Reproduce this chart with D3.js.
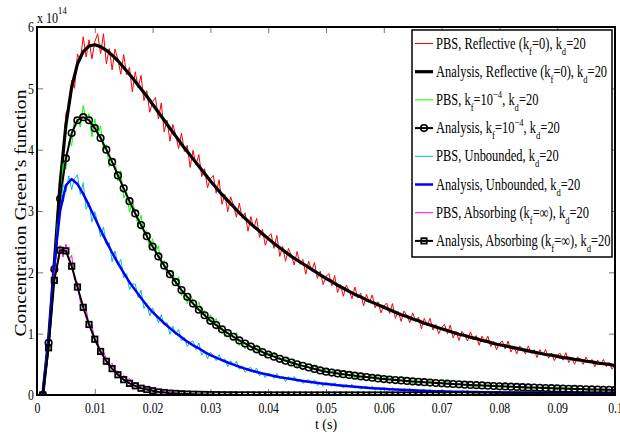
<!DOCTYPE html>
<html>
<head>
<meta charset="utf-8">
<script src="https://cdn.jsdelivr.net/npm/d3@7"></script>
<style>
  body { margin: 0; background: #fff; }
  svg text { font-family: "Liberation Serif", "DejaVu Serif", serif; fill: #000; }
</style>
</head>
<body>
<script>
// all concentrations are in units of 1e14 (the "x 10^14" above the y axis)
// analysis curves are sampled every 1 ms, PBS curves every 0.5 ms
var tAnalysis = d3.range(1, 101).map(function(k) { return k / 1000; });
var tPBS = d3.range(1, 201).map(function(k) { return k / 2000; });

var xTicks = [0, 0.01, 0.02, 0.03, 0.04, 0.05, 0.06, 0.07, 0.08, 0.09, 0.1];
var yTicks = [0, 1, 2, 3, 4, 5, 6];

var anaReflective = [0.00,0.90,2.15,3.45,4.40,5.02,5.40,5.60,5.69,5.71,
  5.68,5.62,5.54,5.45,5.34,5.23,5.11,4.99,4.87,4.74,
  4.61,4.48,4.35,4.22,4.09,3.97,3.85,3.73,3.61,3.49,
  3.38,3.27,3.17,3.07,2.97,2.88,2.79,2.71,2.63,2.55,
  2.47,2.40,2.33,2.26,2.20,2.14,2.08,2.02,1.96,1.90,
  1.85,1.79,1.74,1.69,1.64,1.60,1.55,1.51,1.47,1.43,
  1.39,1.35,1.31,1.28,1.24,1.21,1.17,1.14,1.11,1.08,
  1.05,1.02,0.99,0.97,0.94,0.92,0.89,0.87,0.84,0.82,
  0.80,0.78,0.76,0.74,0.72,0.70,0.68,0.66,0.65,0.63,
  0.61,0.60,0.58,0.57,0.55,0.54,0.52,0.51,0.50,0.48];

var anaPartial = [0.00,0.85,2.05,3.20,3.86,4.27,4.48,4.53,4.48,4.35,
  4.19,4.00,3.80,3.58,3.37,3.16,2.96,2.77,2.59,2.42,
  2.26,2.11,1.97,1.84,1.71,1.60,1.49,1.39,1.30,1.21,
  1.14,1.07,1.01,0.95,0.89,0.84,0.79,0.745,0.70,0.66,
  0.625,0.59,0.56,0.53,0.50,0.475,0.45,0.425,0.40,0.38,
  0.366,0.352,0.339,0.327,0.315,0.303,0.292,0.281,0.270,0.26,
  0.252,0.244,0.237,0.229,0.222,0.215,0.209,0.202,0.196,0.19,
  0.185,0.179,0.174,0.169,0.165,0.160,0.156,0.151,0.147,0.143,
  0.139,0.135,0.131,0.128,0.124,0.121,0.117,0.114,0.111,0.108,
  0.105,0.102,0.099,0.097,0.094,0.091,0.089,0.086,0.084,0.082];

var anaUnbounded = [0.02,0.88,2.15,3.00,3.42,3.52,3.44,3.28,3.09,2.89,
  2.69,2.50,2.32,2.15,1.99,1.84,1.71,1.58,1.46,1.35,
  1.26,1.17,1.09,1.01,0.94,0.87,0.81,0.76,0.70,0.65,
  0.61,0.57,0.53,0.495,0.46,0.43,0.40,0.375,0.35,0.33,
  0.31,0.29,0.275,0.26,0.245,0.23,0.215,0.203,0.19,0.18,
  0.17,0.16,0.151,0.142,0.134,0.126,0.119,0.112,0.106,0.10,
  0.095,0.09,0.086,0.081,0.077,0.074,0.07,0.066,0.063,0.06,
  0.058,0.055,0.053,0.051,0.049,0.047,0.045,0.043,0.042,0.04,
  0.038,0.037,0.035,0.034,0.033,0.031,0.030,0.029,0.028,0.027,
  0.026,0.025,0.024,0.023,0.022,0.022,0.021,0.020,0.020,0.019];

var anaAbsorbing = [0.00,0.77,1.87,2.36,2.35,2.10,1.76,1.43,1.15,0.91,
  0.71,0.55,0.43,0.33,0.25,0.19,0.15,0.11,0.09,0.07,
  0.05,0.04,0.03,0.025,0.02,0.015,0.012,0.010,0.008,0.006,
  0.005,0.004,0.003,0.003,0.002,0.002,0.002,0.001,0.001,0.001,
  0,0,0,0,0,0,0,0,0,0, 0,0,0,0,0,0,0,0,0,0,
  0,0,0,0,0,0,0,0,0,0, 0,0,0,0,0,0,0,0,0,0,
  0,0,0,0,0,0,0,0,0,0, 0,0,0,0,0,0,0,0,0,0];

var pbsReflective = [0,0.02,0.46,0.86,1.54,2.00,2.95,3.47,3.84,4.59,
  4.68,5.13,5.00,5.56,5.46,5.84,5.51,5.79,5.48,5.76,
  5.89,5.56,5.89,5.40,5.65,5.30,5.64,5.47,5.23,5.55,
  5.22,5.34,4.94,5.27,5.01,5.21,4.80,4.96,4.61,4.78,
  4.85,4.50,4.76,4.29,4.48,4.14,4.41,4.24,4.02,4.27,
  3.97,4.07,3.71,3.99,3.75,3.92,3.56,3.69,3.38,3.53,
  3.58,3.29,3.51,3.11,3.27,2.99,3.23,3.09,2.90,3.13,
  2.88,2.97,2.67,2.91,2.72,2.88,2.57,2.70,2.44,2.58,
  2.63,2.39,2.60,2.26,2.42,2.18,2.39,2.28,2.12,2.34,
  2.13,2.21,1.97,2.18,2.02,2.16,1.90,2.02,1.80,1.93,
  1.98,1.78,1.95,1.67,1.80,1.61,1.79,1.70,1.57,1.76,
  1.58,1.66,1.45,1.64,1.51,1.63,1.42,1.52,1.34,1.45,
  1.50,1.33,1.49,1.25,1.36,1.20,1.37,1.29,1.18,1.34,
  1.20,1.27,1.08,1.25,1.14,1.25,1.06,1.15,1.00,1.10,
  1.15,1.00,1.14,0.93,1.04,0.89,1.04,0.98,0.88,1.03,
  0.90,0.97,0.81,0.96,0.86,0.96,0.79,0.88,0.74,0.84,
  0.88,0.75,0.88,0.70,0.80,0.67,0.80,0.75,0.67,0.80,
  0.68,0.74,0.61,0.74,0.65,0.74,0.60,0.68,0.56,0.65,
  0.68,0.57,0.69,0.53,0.61,0.50,0.62,0.58,0.50,0.62,
  0.52,0.58,0.46,0.57,0.50,0.58,0.46,0.53,0.42,0.50];

var pbsPartial = [0,0.02,0.31,0.84,1.29,2.08,2.78,3.11,3.77,3.68,
  4.14,4.06,4.53,4.50,4.37,4.72,4.46,4.59,4.21,4.50,
  4.23,4.39,3.98,4.08,3.72,3.84,3.84,3.49,3.66,3.21,
  3.31,2.98,3.17,2.98,2.75,2.93,2.64,2.68,2.36,2.55,
  2.33,2.43,2.11,2.19,1.93,2.02,2.03,1.79,1.93,1.62,
  1.72,1.49,1.65,1.53,1.38,1.52,1.33,1.38,1.16,1.31,
  1.15,1.25,1.04,1.11,0.95,1.03,1.06,0.90,1.02,0.81,
  0.89,0.75,0.87,0.80,0.71,0.82,0.70,0.74,0.60,0.72,
  0.63,0.70,0.56,0.62,0.51,0.575,0.60,0.49,0.59,0.44,
  0.51,0.41,0.50,0.46,0.39,0.48,0.39,0.43,0.33,0.42,
  0.36,0.43,0.32,0.38,0.29,0.35,0.38,0.30,0.38,0.265,
  0.33,0.25,0.33,0.30,0.25,0.33,0.26,0.30,0.21,0.30,
  0.246,0.30,0.218,0.264,0.196,0.247,0.271,0.205,0.274,0.18,
  0.232,0.169,0.24,0.214,0.174,0.243,0.186,0.218,0.149,0.221,
  0.178,0.228,0.156,0.196,0.139,0.182,0.205,0.149,0.208,0.128,
  0.175,0.12,0.182,0.16,0.127,0.186,0.137,0.166,0.107,0.17,
  0.133,0.176,0.115,0.15,0.101,0.138,0.159,0.11,0.161,0.093,
  0.133,0.086,0.14,0.12,0.092,0.145,0.102,0.128,0.077,0.131,
  0.10,0.137,0.084,0.115,0.071,0.105,0.123,0.081,0.126,0.066,
  0.102,0.061,0.108,0.092,0.067,0.112,0.076,0.099,0.054,0.102];

var pbsUnbounded = [0,0.02,0.51,0.85,1.58,2.00,2.71,2.97,3.43,3.31,
  3.57,3.35,3.53,3.59,3.27,3.46,3.03,3.14,2.82,2.99,
  2.81,2.58,2.74,2.45,2.49,2.17,2.35,2.12,2.21,1.91,
  1.98,1.72,1.81,1.81,1.59,1.71,1.41,1.50,1.29,1.42,
  1.31,1.18,1.31,1.14,1.18,0.99,1.12,0.99,1.07,0.88,
  0.94,0.79,0.86,0.88,0.74,0.85,0.65,0.73,0.59,0.70,
  0.64,0.56,0.66,0.55,0.59,0.46,0.56,0.48,0.55,0.42,
  0.47,0.37,0.43,0.45,0.36,0.44,0.31,0.37,0.28,0.36,
  0.33,0.27,0.35,0.27,0.31,0.22,0.30,0.25,0.30,0.216,
  0.258,0.187,0.231,0.252,0.186,0.248,0.156,0.203,0.142,0.205,
  0.179,0.141,0.202,0.148,0.176,0.112,0.174,0.134,0.175,0.112,
  0.144,0.094,0.129,0.146,0.098,0.145,0.079,0.116,0.071,0.119,
  0.10,0.073,0.12,0.081,0.103,0.057,0.104,0.075,0.108,0.06,
  0.086,0.05,0.077,0.091,0.055,0.092,0.042,0.071,0.037,0.074,
  0.061,0.041,0.078,0.048,0.066,0.03,0.068,0.046,0.072,0.036,
  0.057,0.027,0.05,0.062,0.034,0.064,0.024,0.048,0.021,0.052,
  0.041,0.025,0.055,0.031,0.046,0.016,0.048,0.03,0.052,0.022,
  0.04,0.016,0.035,0.044,0.022,0.046,0.013,0.033,0.011,0.037,
  0.028,0.015,0.040,0.02,0.032,0.009,0.034,0.02,0.038,0.013,
  0.028,0.008,0.024,0.033,0.014,0.035,0.007,0.024,0.006,0.027];

var pbsAbsorbing = [0,0.02,0.36,0.78,1.27,1.99,2.16,2.44,2.25,2.46,
  2.21,2.28,1.88,1.84,1.51,1.48,1.41,1.13,1.16,0.85,
  0.87,0.65,0.71,0.59,0.47,0.52,0.39,0.39,0.26,0.32,
  0.24,0.27,0.17,0.20,0.12,0.15,0.16,0.10,0.13,0.063,
  0.088,0.044,0.075,0.054,0.030,0.058,0.029,0.038,0.010,0.033,
  0.016,0.029,0.007,0.016,0.001,0.010,0.014,0.002,0.013,0,
  0.006,0,0.005,0.002,0,0.006,0.001,0.004,0,0.005,
  0.002,0,0.004,0.001,0,0.003,0.001,0.002,0,0.002];

// legend labels: [text, "sub" | "sup" | ""]
var legendLabels = [
  [["PBS, Reflective (k",""],["f","sub"],["=0), k",""],["d","sub"],["=20",""]],
  [["Analysis, Reflective (k",""],["f","sub"],["=0), k",""],["d","sub"],["=20",""]],
  [["PBS, k",""],["f","sub"],["=10",""],["\u22124","sup"],[", k",""],["d","sub"],["=20",""]],
  [["Analysis, k",""],["f","sub"],["=10",""],["\u22124","sup"],[", k",""],["d","sub"],["=20",""]],
  [["PBS, Unbounded, k",""],["d","sub"],["=20",""]],
  [["Analysis, Unbounded, k",""],["d","sub"],["=20",""]],
  [["PBS, Absorbing (k",""],["f","sub"],["=\u221e), k",""],["d","sub"],["=20",""]],
  [["Analysis, Absorbing (k",""],["f","sub"],["=\u221e), k",""],["d","sub"],["=20",""]]
];

var series = [
  {t: tPBS, v: pbsReflective, color: "#ff0000", width: 1, marker: null},
  {t: tAnalysis, v: anaReflective, color: "#000000", width: 3.2, marker: null},
  {t: tPBS, v: pbsPartial, color: "#00ff00", width: 1, marker: null},
  {t: tAnalysis, v: anaPartial, color: "#000000", width: 2, marker: "circle"},
  {t: tPBS, v: pbsUnbounded, color: "#00c0c0", width: 1, marker: null},
  {t: tAnalysis, v: anaUnbounded, color: "#0000ff", width: 2.5, marker: null},
  {t: tPBS.slice(0, pbsAbsorbing.length), v: pbsAbsorbing, color: "#ff00ff", width: 1, marker: null},
  {t: tAnalysis, v: anaAbsorbing, color: "#000000", width: 2, marker: "square"}
];

var serif = '"Liberation Serif", "DejaVu Serif", serif';

var margin = {top: 27, right: 5, bottom: 41, left: 37},
    width = 620 - margin.left - margin.right,
    height = 436 - margin.top - margin.bottom;

var svg = d3.select("body").append("svg")
    .attr("width", 620)
    .attr("height", 436)
    .style("display", "block")
  .append("g")
    .attr("transform", "translate(" + margin.left + "," + margin.top + ")");

var x = d3.scaleLinear().domain([0, 0.1]).range([0, width]),
    y = d3.scaleLinear().domain([0, 6]).range([height, 0]);

svg.append("clipPath").attr("id", "plotclip")
  .append("rect").attr("width", width).attr("height", height);

// axes, matlab style: ticks pointing inwards on all four sides
var xAxis = svg.append("g")
    .attr("transform", "translate(0," + height + ")")
    .call(d3.axisBottom(x).tickValues(xTicks).tickFormat(String).tickSizeInner(-6).tickSizeOuter(0).tickPadding(7));
var yAxis = svg.append("g")
    .call(d3.axisLeft(y).tickValues(yTicks).tickFormat(String).tickSizeInner(-6).tickSizeOuter(0).tickPadding(4));
svg.append("g")
    .call(d3.axisTop(x).tickValues(xTicks).tickFormat("").tickSizeInner(-6).tickSizeOuter(0));
svg.append("g")
    .attr("transform", "translate(" + width + ",0)")
    .call(d3.axisRight(y).tickValues(yTicks).tickFormat("").tickSizeInner(-6).tickSizeOuter(0));

svg.selectAll(".domain").remove();
svg.selectAll(".tick line").attr("stroke", "#777").attr("stroke-width", 1);
svg.selectAll(".tick text")
    .style("font-family", serif)
    .style("font-size", "15.5px")
    .attr("transform", "scale(0.76,1)");

// curves
var line = d3.line()
    .x(function(d) { return x(d[0]); })
    .y(function(d) { return y(d[1]); });

var plot = svg.append("g").attr("clip-path", "url(#plotclip)");

series.forEach(function(s) {
  var pts = s.v.map(function(v, i) { return [s.t[i], v]; });
  plot.append("path")
      .datum(pts)
      .attr("fill", "none")
      .attr("stroke", s.color)
      .attr("stroke-width", s.width)
      .attr("stroke-linejoin", "round")
      .attr("d", line);
  if (s.marker == "circle") {
    plot.selectAll(null).data(pts).enter().append("circle")
        .attr("cx", function(d) { return x(d[0]); })
        .attr("cy", function(d) { return y(d[1]); })
        .attr("r", 3.3)
        .attr("fill", "none")
        .attr("stroke", "#000")
        .attr("stroke-width", 1.6);
  }
  if (s.marker == "square") {
    plot.selectAll(null).data(pts).enter().append("rect")
        .attr("x", function(d) { return x(d[0]) - 2.7; })
        .attr("y", function(d) { return y(d[1]) - 2.7; })
        .attr("width", 5.4)
        .attr("height", 5.4)
        .attr("fill", "none")
        .attr("stroke", "#000")
        .attr("stroke-width", 1.8);
  }
});

// frame
svg.append("rect")
    .attr("width", width).attr("height", height)
    .attr("fill", "none").attr("stroke", "#000").attr("stroke-width", 2);

// x 10^14
var expo = svg.append("text")
    .attr("transform", "translate(0,-4) scale(0.78,1)")
    .style("font-family", serif)
    .style("font-size", "15.5px");
expo.append("tspan").text("x 10");
expo.append("tspan").attr("dy", -9).style("font-size", "11px").text("14");

// axis labels
svg.append("text")
    .attr("x", x(0.05))
    .attr("y", height + 33.5)
    .attr("text-anchor", "middle")
    .style("font-family", serif)
    .style("font-size", "14px")
    .text("t (s)");

svg.append("text")
    .attr("transform", "translate(-11," + (height / 2 + 2) + ") rotate(-90) scale(1.12,1)")
    .attr("text-anchor", "middle")
    .style("font-family", serif)
    .style("font-size", "17.5px")
    .text("Concentration Green\u2019s function");

// legend
var lg = svg.append("g").attr("transform", "translate(" + (412 - margin.left) + "," + (30 - margin.top) + ")");
lg.append("rect")
    .attr("width", 200).attr("height", 227)
    .attr("fill", "#fff").attr("stroke", "#000").attr("stroke-width", 1.5);

legendLabels.forEach(function(parts, i) {
  var s = series[i], cy = 13.5 + i * 28.2;
  lg.append("line")
      .attr("x1", 3).attr("x2", 21).attr("y1", cy).attr("y2", cy)
      .attr("stroke", s.color).attr("stroke-width", s.width);
  if (s.marker == "circle")
    lg.append("circle").attr("cx", 12).attr("cy", cy).attr("r", 3.3)
        .attr("fill", "none").attr("stroke", "#000").attr("stroke-width", 1.6);
  if (s.marker == "square")
    lg.append("rect").attr("x", 9.3).attr("y", cy - 2.7).attr("width", 5.4).attr("height", 5.4)
        .attr("fill", "none").attr("stroke", "#000").attr("stroke-width", 1.8);

  var txt = lg.append("text")
      .attr("transform", "translate(24," + (cy + 5) + ") scale(0.78,1)")
      .style("font-family", serif)
      .style("font-size", "16px");
  var shift = 0;
  parts.forEach(function(p) {
    var dy = 0;
    if (p[1] == "sub") dy = 6;
    if (p[1] == "sup") dy = -7;
    txt.append("tspan")
        .attr("dy", dy - shift)
        .style("font-size", p[1] ? "11px" : "16px")
        .text(p[0]);
    shift = dy;
  });
});
</script>
</body>
</html>
